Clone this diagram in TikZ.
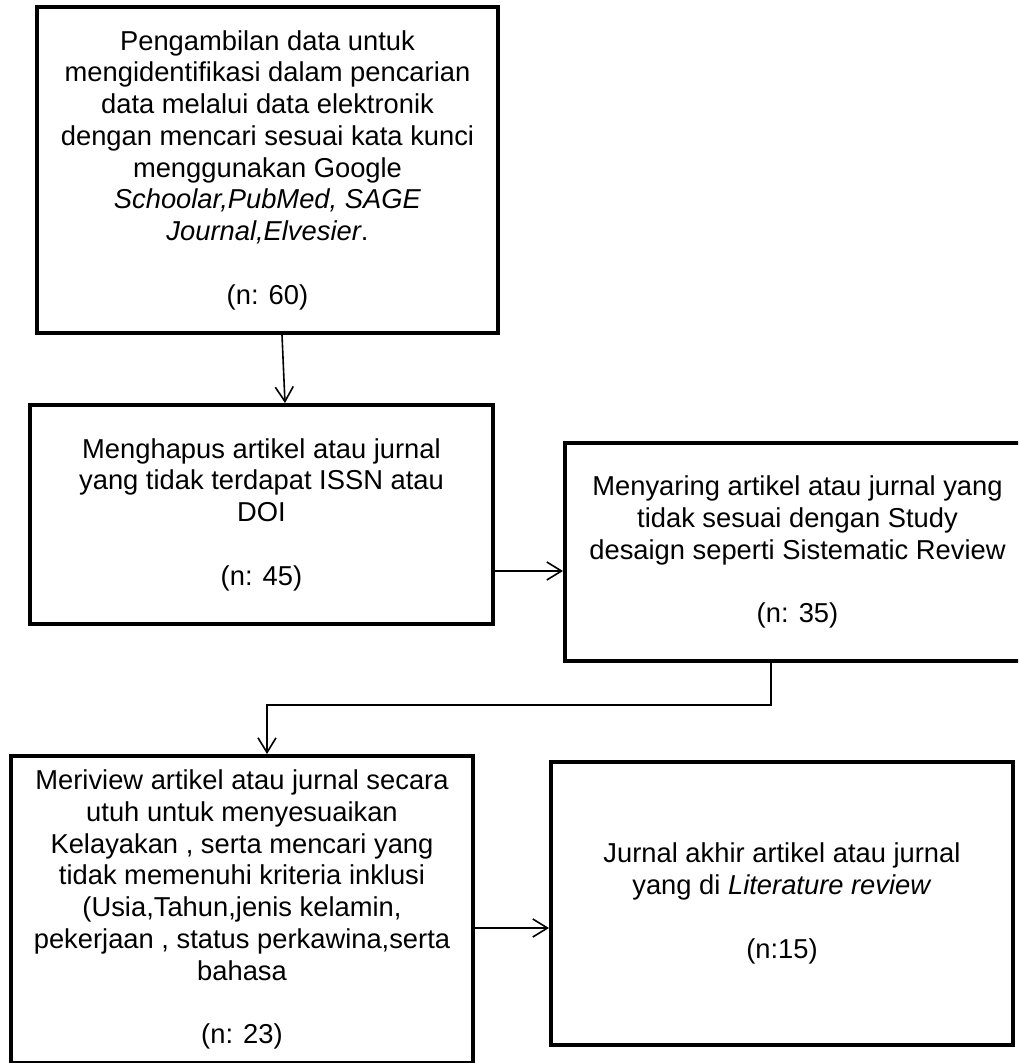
\documentclass[tikz,border=0pt]{standalone}
\usepackage{fontspec}
\setmainfont{Liberation Sans}
\usetikzlibrary{arrows.meta,calc}
\begin{document}
\begin{tikzpicture}[x=0.75pt,y=-0.75pt,
  flowbox/.style={draw, line width=3pt, inner sep=0pt, align=center,
    font=\fontsize{20.5}{23.8}\selectfont},
  arr/.style={line width=1.2pt, -{Straight Barb[length=11pt,width=13.5pt]}}]
\clip (0,0) rectangle (1018,1063);
\fill[white] (0,0) rectangle (1018,1063);

\node[flowbox, minimum width=345.75pt, minimum height=244.5pt] (b1) at (267.5,170)
  {Pengambilan data untuk\\ mengidentifikasi dalam pencarian\\ data melalui data elektronik\\
   dengan mencari sesuai kata kunci\\ menggunakan Google\\ \textit{Schoolar,PubMed, SAGE}\\
   \textit{Journal,Elvesier}.\\[23.8pt] (n: 60)};

\node[flowbox, minimum width=347.25pt, minimum height=164.25pt] (b2) at (261.5,514.5)
  {Menghapus artikel atau jurnal\\ yang tidak terdapat ISSN atau\\ DOI\\[23.8pt] (n: 45)};

\node[flowbox, minimum width=348.75pt, minimum height=163.5pt] (b3) at (797.5,552)
  {Menyaring artikel atau jurnal yang\\ tidak sesuai dengan Study\\ desaign seperti Sistematic Review\\[23.8pt] (n: 35)};

\node[flowbox, minimum width=346.5pt, minimum height=230.25pt] (b4) at (242,909.5)
  {Meriview artikel atau jurnal secara\\ utuh untuk menyesuaikan\\ Kelayakan , serta mencari yang\\
   tidak memenuhi kriteria inklusi\\ (Usia,Tahun,jenis kelamin,\\ pekerjaan , status perkawina,serta\\
   bahasa\\[23.8pt] (n: 23)};

\node[flowbox, minimum width=346.5pt, minimum height=212.25pt] (b5) at (782,903.5)
  {Jurnal akhir artikel atau jurnal\\ yang di \textit{Literature review}\\[23.8pt] (n:15)};

% connectors
\draw[arr] ($(b1.south)+(14.5,0)$) -- ($(b2.north)+(23.5,0)$);
\coordinate (s23) at ($(b2.east)+(0,56.5)$);
\draw[arr] (s23) -- (s23 -| b3.west);
\coordinate (s34) at ($(b3.south)+(-26.5,0)$);
\coordinate (e34) at ($(b4.north)+(25,0)$);
\draw[arr] (s34) -- ++(0,42) -| (e34);
\coordinate (s45) at ($(b4.east)+(0,18.5)$);
\draw[arr] (s45) -- (s45 -| b5.west);
\end{tikzpicture}
\end{document}
